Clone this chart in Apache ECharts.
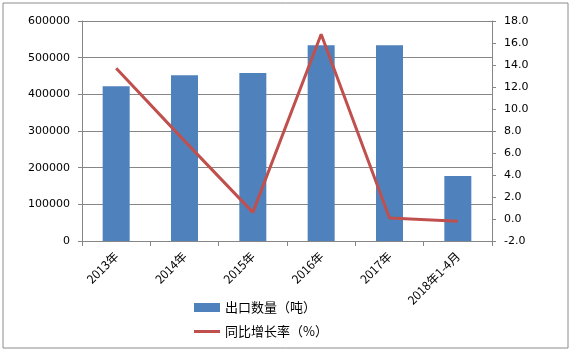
<!DOCTYPE html>
<html>
<head>
<meta charset="utf-8">
<script src="https://cdn.jsdelivr.net/npm/echarts@6/dist/echarts.min.js"></script>
<style>
html, body { margin: 0; padding: 0; background: #fff; }
#chart { width: 571px; height: 352px; }
</style>
</head>
<body>
<div id="chart"></div>
<script>
// 数据
var categories = ['2013年', '2014年', '2015年', '2016年', '2017年', '2018年1-4月'];
var exportVolume = [422000, 452000, 458000, 534000, 534000, 177000]; // 出口数量（吨）
var growthRate = [13.7, 7.1, 0.6, 16.8, 0.1, -0.2]; // 同比增长率（%）

var numFont = 'DejaVu Sans';
var cnFont = '"Noto Sans CJK SC", "DejaVu Sans"';
var legendText = { fontFamily: cnFont, fontSize: 13, color: '#000' };

var chart = echarts.init(document.getElementById('chart'));
chart.setOption({
    animation: false,
    backgroundColor: '#fff',
    graphic: [{ // 外边框
        type: 'rect',
        shape: { x: 3, y: 3, width: 565, height: 345 },
        style: { fill: 'none', stroke: '#8c8c8c', lineWidth: 1 }
    }],
    grid: {
        left: 82,
        right: 79,
        top: 21,
        bottom: 111
    },
    legend: [{ // 柱状图例
        left: 189,
        top: 296,
        itemWidth: 26,
        itemHeight: 9,
        textStyle: legendText,
        data: [{ name: '出口数量（吨）', icon: 'rect' }]
    }, { // 折线图例
        left: 189,
        top: 320,
        itemWidth: 26,
        itemHeight: 3,
        textStyle: legendText,
        data: [{ name: '同比增长率（%）', icon: 'rect' }]
    }],
    xAxis: {
        type: 'category',
        data: categories,
        axisLine: { lineStyle: { color: '#868686' } },
        axisTick: { show: true, length: 5, lineStyle: { color: '#868686' } },
        axisLabel: {
            rotate: 45,
            margin: 13,
            color: '#000',
            fontFamily: cnFont,
            fontSize: 12
        }
    },
    yAxis: [{
        type: 'value',
        min: 0,
        max: 600000,
        interval: 100000,
        axisLine: { show: true, lineStyle: { color: '#868686' } },
        axisTick: { show: true, length: 4, lineStyle: { color: '#868686' } },
        splitLine: { lineStyle: { color: '#868686' } },
        axisLabel: {
            color: '#000', fontFamily: numFont, fontSize: 11, margin: 12,
            formatter: function (v) { return String(v); }
        }
    }, {
        type: 'value',
        min: -2,
        max: 18,
        interval: 2,
        position: 'right',
        axisLine: { show: true, lineStyle: { color: '#868686' } },
        axisTick: { show: true, length: 4, lineStyle: { color: '#868686' } },
        splitLine: { show: false },
        axisLabel: {
            color: '#000', fontFamily: numFont, fontSize: 11, margin: 12,
            formatter: function (v) { return v.toFixed(1); }
        }
    }],
    series: [{
        name: '出口数量（吨）',
        type: 'bar',
        data: exportVolume,
        barWidth: 27,
        itemStyle: { color: '#4f81bd' }
    }, {
        name: '同比增长率（%）',
        type: 'line',
        yAxisIndex: 1,
        data: growthRate,
        symbol: 'none',
        lineStyle: { color: '#c0504d', width: 3 },
        itemStyle: { color: '#c0504d' }
    }]
});
</script>
</body>
</html>
